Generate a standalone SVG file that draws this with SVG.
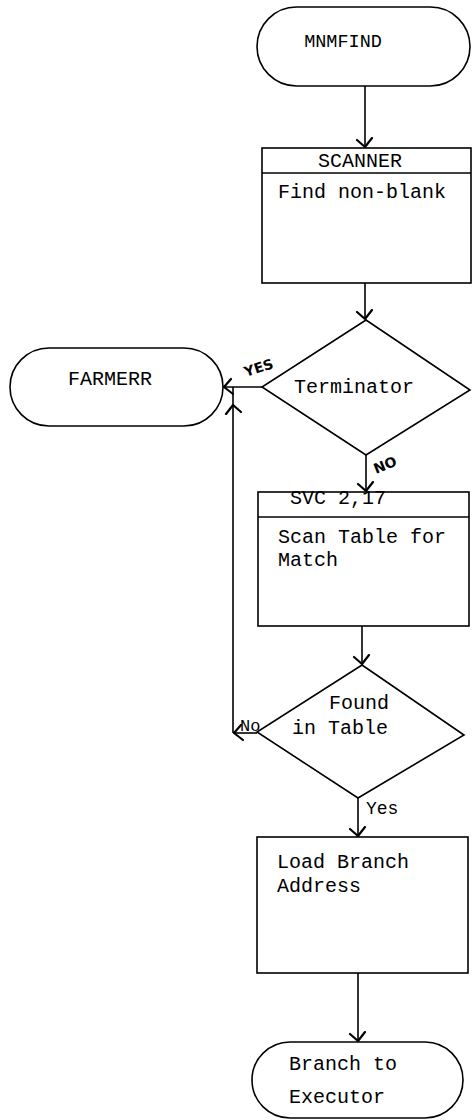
<svg xmlns="http://www.w3.org/2000/svg" width="472" height="1120" viewBox="0 0 472 1120">
<style>
.shape{fill:#fff;stroke:#000;stroke-width:1.6}
.t{font-family:"Liberation Mono","Courier New",monospace;font-size:20px;fill:#000}
.c{text-anchor:middle}
.conn{fill:none;stroke:#000;stroke-width:1.6}
.hand{font-family:"DejaVu Sans","Liberation Sans",sans-serif;font-weight:bold;font-size:14px;fill:#000}
</style>
<defs>
<marker id="arr" markerUnits="userSpaceOnUse" markerWidth="20" markerHeight="20" viewBox="-10 -10 20 20" refX="0" refY="0" orient="auto">
<path d="M-9,-7 L0,0 L-7,8" fill="none" stroke="#000" stroke-width="2.2" stroke-linecap="round" stroke-linejoin="round"/>
</marker>
</defs>
<rect width="472" height="1120" fill="#fff"/>
<g id="connectors">
<path class="conn" d="M365,86 V147" marker-end="url(#arr)"/>
<path class="conn" d="M365,283 V319" marker-end="url(#arr)"/>
<path class="conn" d="M262,387 H224" marker-end="url(#arr)"/>
<path class="conn" d="M366,455 V491" marker-end="url(#arr)"/>
<path class="conn" d="M362,626 V664" marker-end="url(#arr)"/>
<path class="conn" d="M257,733 H234" marker-end="url(#arr)"/>
<path class="conn" d="M233,733 V405" marker-end="url(#arr)"/>
<path class="conn" d="M233,405 V387"/>
<path class="conn" d="M358,798 V836" marker-end="url(#arr)"/>
<path class="conn" d="M358,973 V1041" marker-end="url(#arr)"/>
<text class="hand" transform="translate(246,377) rotate(-18)">YES</text>
<text class="hand" transform="translate(376,474) rotate(-22)">NO</text>
<text class="t" x="240" y="731" style="font-size:17px">No</text>
<text class="t" x="366" y="814" style="font-size:18px">Yes</text>
</g>
<g id="mnmfind">
<rect class="shape" x="257" y="7" width="213" height="79" rx="39.5"/>
<text class="t c" x="343" y="47" style="font-size:18.5px">MNMFIND</text>
</g>
<g id="scanner">
<rect class="shape" x="262" y="148" width="209" height="135"/>
<line class="shape" x1="262" y1="173" x2="471" y2="173"/>
<text class="t c" x="360" y="167">SCANNER</text>
<text class="t" x="278" y="198">Find non-blank</text>
</g>
<g id="terminator">
<polygon class="shape" points="366,320 470,390 366,455 262,387"/>
<text class="t c" x="354" y="393">Terminator</text>
</g>
<g id="farmerr">
<rect class="shape" x="10" y="348" width="213" height="78" rx="39"/>
<text class="t c" x="110" y="385">FARMERR</text>
</g>
<g id="svc">
<rect class="shape" x="258" y="492" width="211" height="134"/>
<line class="shape" x1="258" y1="517" x2="469" y2="517"/>
<text class="t" x="290" y="504">SVC 2,17</text>
<text class="t" x="278" y="543">Scan Table for</text>
<text class="t" x="278" y="566">Match</text>
</g>
<g id="found">
<polygon class="shape" points="362,665 464,735 358,798 257,732"/>
<text class="t c" x="359" y="709">Found</text>
<text class="t c" x="340" y="734">in Table</text>
</g>
<g id="load">
<rect class="shape" x="257" y="837" width="211" height="136"/>
<text class="t" x="277" y="868">Load Branch</text>
<text class="t" x="277" y="892">Address</text>
</g>
<g id="branch">
<rect class="shape" x="252" y="1042" width="211" height="76" rx="38"/>
<text class="t" x="289" y="1070">Branch to</text>
<text class="t" x="289" y="1103">Executor</text>
</g>
</svg>
